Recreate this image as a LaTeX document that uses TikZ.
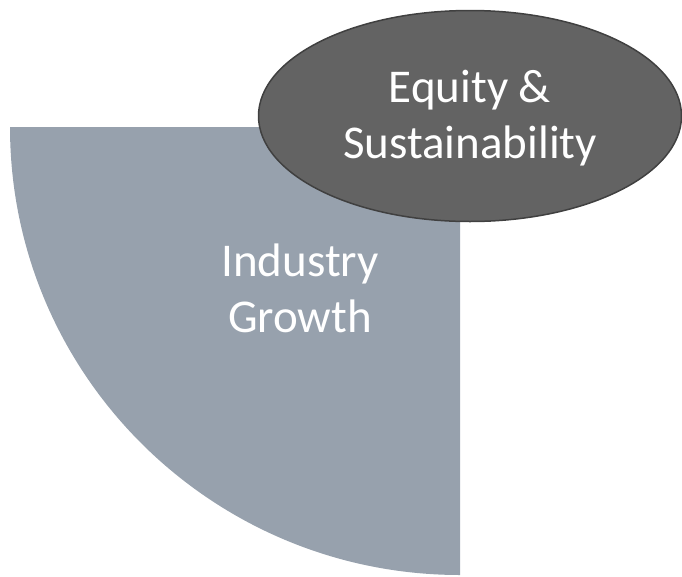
\documentclass[tikz,border=0pt]{standalone}
\usepackage{fontspec}
\setmainfont{Carlito}
\usetikzlibrary{shapes.geometric}
\definecolor{quartergray}{HTML}{97A1AD}
\definecolor{ellfill}{HTML}{636363}
\definecolor{elldraw}{HTML}{404040}
\tikzset{
  bigtext/.style={text=white, align=center, font=\fontsize{47}{56}\selectfont, inner sep=0pt},
}
\begin{document}
\begin{tikzpicture}[x=1pt, y=-1pt]
\useasboundingbox (0,0) rectangle (682,576);
% quarter circle sector, centre (460,127)
\coordinate (qc) at (460,127);
\fill[quartergray] (qc) -- (10,127) arc[start angle=180, end angle=270, x radius=450, y radius=-448] -- cycle;
\node[bigtext] (ind) at (300,288) {Industry\\Growth};
% ellipse
\node[ellipse, draw=elldraw, line width=1.5pt, fill=ellfill, minimum width=423pt, minimum height=211pt, inner sep=0pt] (eq) at (470,116) {};
\node[bigtext] (eqt) at (470,118) {Equity \&\\Sustainability};
\end{tikzpicture}
\end{document}
